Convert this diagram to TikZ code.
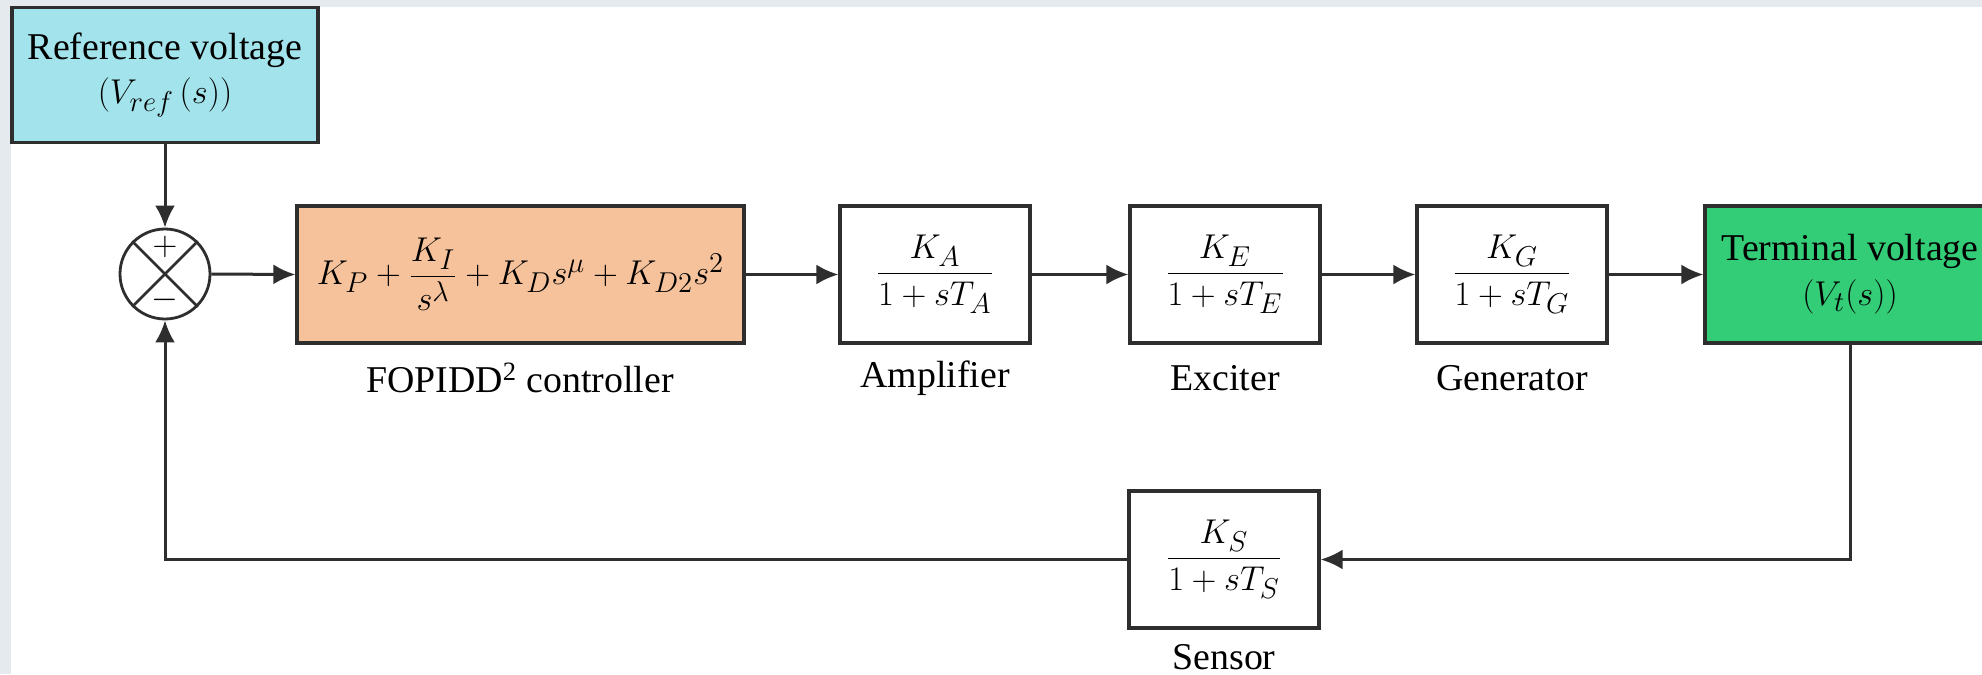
\documentclass[tikz,border=0pt]{standalone}
\usepackage{amsmath}
\usepackage{fontspec}
\setmainfont{Liberation Serif}
\usetikzlibrary{arrows.meta}
\definecolor{margingrey}{HTML}{E4EAEE}
\definecolor{refcyan}{HTML}{A3E4EC}
\definecolor{ctrlpeach}{HTML}{F5C29B}
\definecolor{termgreen}{HTML}{33CC77}
\definecolor{edge}{HTML}{2E2E2E}
\tikzset{
  x=0.5bp, y=-0.5bp,
  blk/.style={draw=edge, line width=1.6bp, rectangle, inner sep=0pt,
    minimum width=95bp, minimum height=68.5bp, fill=white,
    font=\fontsize{19}{22.5}\selectfont, align=center},
  lbl/.style={font=\fontsize{19}{22}\selectfont, inner sep=0pt},
  conn/.style={draw=edge, line width=1.5bp, -{Latex[length=11bp,width=10bp]}},
  sumjunction/.style={draw=edge, line width=1.4bp, circle, minimum size=45bp, inner sep=0pt},
  sign/.style={inner sep=0pt, font=\fontsize{17}{17}\selectfont}
}
\begin{document}
\begin{tikzpicture}
\useasboundingbox (0,0) rectangle (1982,674);
\fill[margingrey] (0,0) rectangle (1982,674);
\fill[white] (11,7) rectangle (1982,674);

\node[blk, fill=refcyan, minimum width=153bp, minimum height=67.5bp] (ref) at (165,75)
  {Reference voltage\\$(V_{ref}\,(s))$};
\node[sumjunction] (sum) at (165,274) {};
\draw[edge, line width=1.4bp] (sum.north east) -- (sum.south west)
  (sum.north west) -- (sum.south east);
\node[sign] (plus) at (165,247) {$+$};
\node[sign] (minus) at (165,300) {$-$};

\node[blk, fill=ctrlpeach, minimum width=223.5bp] (ctrl) at (520.5,274.5)
  {$K_P+\dfrac{K_I}{s^{\lambda}}+K_D s^{\mu}+K_{D2}s^2$};
\node[blk] (amp) at (935,274.5) {$\dfrac{K_A}{1+sT_A}$};
\node[blk] (exc) at (1225,274.5) {$\dfrac{K_E}{1+sT_E}$};
\node[blk] (gen) at (1512,274.5) {$\dfrac{K_G}{1+sT_G}$};
\node[blk, fill=termgreen, minimum width=145bp] (term) at (1850,274.5)
  {Terminal voltage\\$(V_t(s))$};
\node[blk] (sens) at (1224,559.5) {$\dfrac{K_S}{1+sT_S}$};

\node[lbl] (ctrllbl) at (520,378) {FOPIDD\textsuperscript{2} controller};
\node[lbl] (amplbl) at (935,378) {Amplifier};
\node[lbl] (exclbl) at (1225,378) {Exciter};
\node[lbl] (genlbl) at (1512,378) {Generator};
\node[lbl] (senslbl) at (1224,657) {Sensor};

\draw[conn] (ref.south) -- (sum.north);
\draw[conn] (sum.east) -- (ctrl.west);
\draw[conn] (ctrl.east) -- (amp.west);
\draw[conn] (amp.east) -- (exc.west);
\draw[conn] (exc.east) -- (gen.west);
\draw[conn] (gen.east) -- (term.west);
\draw[conn] (term.south) |- (sens.east);
\draw[conn] (sens.west) -| (sum.south);
\end{tikzpicture}
\end{document}
